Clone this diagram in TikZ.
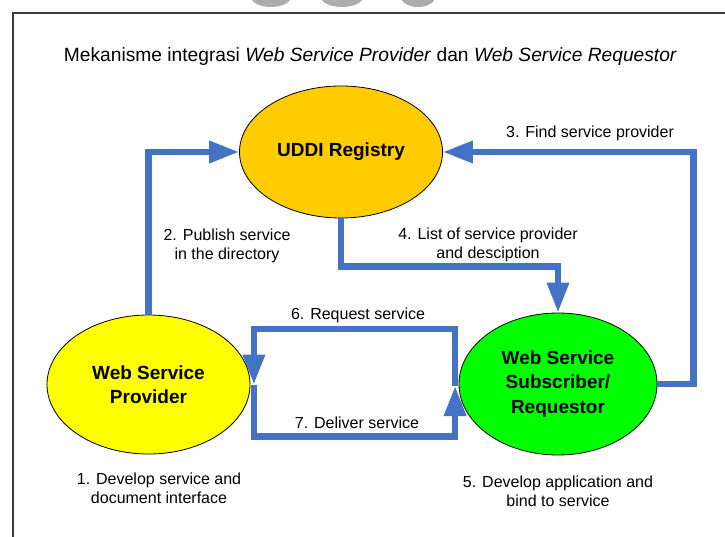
\documentclass[tikz,border=0pt]{standalone}
\usepackage{fontspec}
\setmainfont{Liberation Sans}
\usetikzlibrary{arrows.meta,shapes.geometric}

\definecolor{flowblue}{RGB}{68,114,196}
\definecolor{uddiorange}{RGB}{255,204,0}
\definecolor{provyellow}{RGB}{255,255,0}
\definecolor{reqgreen}{RGB}{0,255,0}
\definecolor{framegray}{RGB}{60,60,60}

\tikzset{every picture/.style={line width=0.75pt}}
\tikzset{
  bubble/.style={ellipse, draw=black, line width=0.8pt, inner sep=0pt, align=center,
    font=\fontsize{19}{24.5}\selectfont\bfseries},
  flow/.style={draw=flowblue, line width=6.5pt, line join=miter,
    -{Triangle[width=21pt,length=30pt]}},
  lbl/.style={inner sep=0pt, align=center, font=\fontsize{16}{19}\selectfont}
}

\begin{document}
\begin{tikzpicture}[x=1pt,y=1pt,yscale=-1,xscale=1]
\useasboundingbox (0,0) rectangle (725,537);

%Shape: Free Drawing (cut-off buttons at the top)
\fill[gray!65] (271,-3) ellipse (20 and 10);
\fill[gray!65] (342,-3) ellipse (21 and 10);
\fill[gray!65] (418,-3) ellipse (17 and 10);

%Shape: Frame
\draw[framegray, line width=1.5pt] (13,537) -- (13,13) -- (725,13);

% Text Node
\node (title) [lbl, font=\fontsize{19.2}{22}\selectfont] at (370.5,57)
  {Mekanisme integrasi \textit{Web Service Provider} dan \textit{Web Service Requestor}};

%Shape: Ellipse [UDDI]
\node (uddi) [bubble, fill=uddiorange, minimum width=203pt, minimum height=132pt] at (341,152) {UDDI Registry};
%Shape: Ellipse [provider]
\node (wsp) [bubble, fill=provyellow, minimum width=203pt, minimum height=139pt] at (148.5,384.5) {Web Service\\Provider};
%Shape: Ellipse [requestor]
\node (wsr) [bubble, fill=reqgreen, minimum width=198pt, minimum height=142pt] at (558,384) {Web Service\\Subscriber/\\Requestor};

\coordinate (provport) at ([xshift=3.5pt]wsp.east);
\coordinate (reqport) at ([xshift=-3.5pt,yshift=2pt]wsr.west);

%Straight Lines [publish]
\draw[flow] (wsp.north) |- (uddi.west);
%Straight Lines [find]
\draw[flow] (wsr.east) -- ++(36,0) |- (uddi.east);
%Straight Lines [list]
\draw[flow] (uddi.south) -- ++(0,48) -| (wsr.north);
%Straight Lines [request]
\draw[flow] (reqport) -- ++(0,-57) -| (provport);
%Straight Lines [deliver]
\draw[flow] (provport) -- ++(0,52) -| (reqport);

% Text Node
\node (lpublish) [lbl] at (227,246) {2. Publish service\\in the directory};
% Text Node
\node (lfind) [lbl] at (590,133) {3. Find service provider};
% Text Node
\node (llist) [lbl] at (488,245) {4. List of service provider\\and desciption};
% Text Node
\node (lrequest) [lbl] at (358,315) {6. Request service};
% Text Node
\node (ldeliver) [lbl] at (357,423) {7. Deliver service};
% Text Node
\node (ldevelop) [lbl] at (159,488) {1. Develop service and\\document interface};
% Text Node
\node (lbind) [lbl] at (558,491) {5. Develop application and\\bind to service};

\end{tikzpicture}
\end{document}
